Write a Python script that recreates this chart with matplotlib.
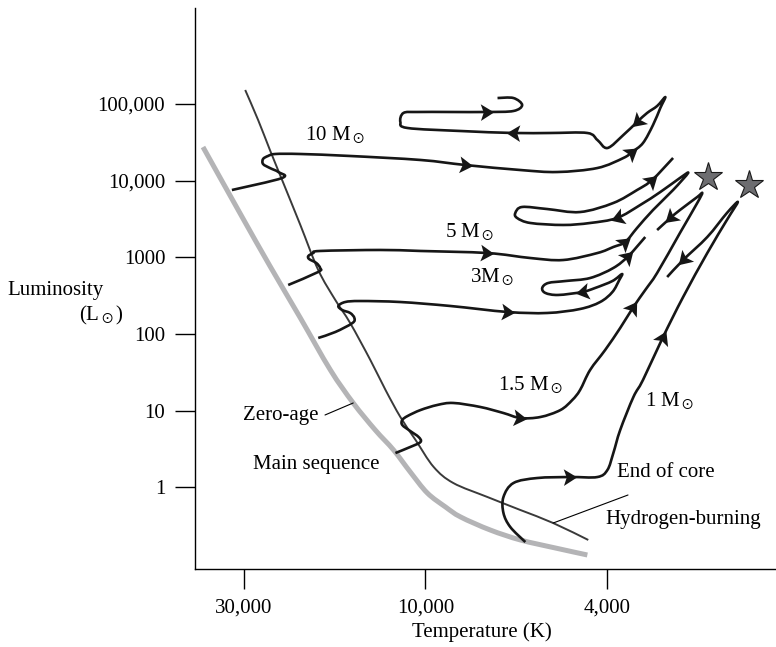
import numpy as np
import matplotlib
matplotlib.use("Agg")
import matplotlib.pyplot as plt
from matplotlib.markers import MarkerStyle
from matplotlib.path import Path
from matplotlib.patches import PathPatch
from matplotlib.transforms import IdentityTransform
from matplotlib.ticker import NullLocator

plt.rcParams["font.family"] = "Liberation Serif"
plt.rcParams["mathtext.fontset"] = "stix"

# zero-age main sequence (grey band), log10 T and log10 L/Lsun
zams_logT = [4.585, 4.488, 4.409, 4.329, 4.250, 4.190, 4.132, 4.084, 4.040, 3.996,
             3.956, 3.923, 3.858, 3.792, 3.715, 3.645]
zams_logL = [4.439, 3.578, 2.887, 2.209, 1.530, 1.100, 0.747, 0.487, 0.200, -0.074,
             -0.257, -0.387, -0.557, -0.687, -0.792, -0.883]

# end of core hydrogen burning (thin dark line)
tams_logT = [4.474, 4.440, 4.409, 4.377, 4.329, 4.282, 4.237, 4.198, 4.145, 4.105,
             4.066, 4.026, 3.982, 3.939, 3.864, 3.792, 3.720, 3.643]
tams_logL = [5.183, 4.791, 4.400, 4.009, 3.422, 2.835, 2.443, 2.143, 1.661, 1.269,
             0.917, 0.617, 0.265, 0.056, -0.127, -0.296, -0.466, -0.687]

# evolutionary tracks
m10_logT = [4.509, 4.377, 4.387, 4.409, 4.427, 4.427, 4.414, 4.395, 4.329, 4.198,
            4.013, 3.912, 3.792, 3.711, 3.623, 3.566, 3.547, 3.523, 3.501, 3.485,
            3.474, 3.492, 3.514, 3.536, 3.566, 3.601, 3.623, 3.645, 3.726, 3.807,
            3.923, 4.047, 4.066, 4.058, 4.021, 3.945, 3.864, 3.807, 3.788, 3.807, 3.842]
m10_logL = [3.878, 4.035, 4.113, 4.165, 4.217, 4.283, 4.322, 4.348, 4.348, 4.322,
            4.270, 4.204, 4.139, 4.113, 4.165, 4.296, 4.374, 4.491, 4.726, 4.948,
            5.091, 4.974, 4.883, 4.765, 4.596, 4.426, 4.531, 4.622, 4.622, 4.622,
            4.648, 4.687, 4.765, 4.883, 4.896, 4.896, 4.896, 4.909, 4.987, 5.078, 5.078]
m10_arrows = [11, 16, 23, 29, 36]

m5_logT = [4.361, 4.282, 4.277, 4.287, 4.306, 4.308, 4.295, 4.277, 4.119, 4.013,
           3.864, 3.770, 3.698, 3.623, 3.588, 3.562, 3.536, 3.501, 3.457, 3.424,
           3.442, 3.485, 3.529, 3.580, 3.639, 3.698, 3.770, 3.799, 3.803, 3.788,
           3.733, 3.661, 3.588, 3.536, 3.503, 3.457]
m5_logL = [2.639, 2.809, 2.861, 2.926, 2.978, 3.017, 3.056, 3.083, 3.096, 3.083,
           3.056, 2.991, 2.965, 3.056, 3.135, 3.200, 3.383, 3.617, 3.878, 4.100,
           4.035, 3.852, 3.683, 3.513, 3.448, 3.422, 3.448, 3.513, 3.578, 3.657,
           3.630, 3.591, 3.709, 3.878, 4.009, 4.296]
m5_arrows = [10, 15, 23, 34]

m3_logT = [4.282, 4.237, 4.192, 4.187, 4.198, 4.219, 4.229, 4.211, 4.171, 4.066,
           3.945, 3.820, 3.733, 3.661, 3.617, 3.590, 3.575, 3.569, 3.590, 3.628,
           3.656, 3.709, 3.737, 3.744, 3.731, 3.693, 3.639, 3.588, 3.555, 3.518]
m3_logL = [1.948, 2.026, 2.143, 2.209, 2.274, 2.313, 2.365, 2.417, 2.430, 2.417,
           2.365, 2.287, 2.274, 2.326, 2.417, 2.548, 2.704, 2.782, 2.691, 2.600,
           2.548, 2.509, 2.535, 2.600, 2.665, 2.691, 2.730, 2.861, 3.017, 3.265]
m3_arrows = [11, 20, 28]

m15_logT = [4.079, 4.040, 4.013, 4.018, 4.040, 4.061, 4.061, 4.047, 4.013, 3.974,
            3.939, 3.880, 3.829, 3.792, 3.748, 3.704, 3.678, 3.661, 3.639, 3.606,
            3.573, 3.544, 3.518, 3.492, 3.442, 3.404, 3.393, 3.404, 3.442, 3.463, 3.492]
m15_logL = [0.447, 0.526, 0.591, 0.656, 0.734, 0.813, 0.878, 0.930, 1.008, 1.074,
            1.100, 1.048, 0.969, 0.904, 0.917, 1.008, 1.139, 1.269, 1.530, 1.791,
            2.078, 2.352, 2.574, 2.796, 3.317, 3.709, 3.839, 3.787, 3.617, 3.513, 3.356]
m15_arrows = [13, 21, 29]

m1_logT = [3.781, 3.814, 3.829, 3.829, 3.807, 3.755, 3.682, 3.623, 3.601, 3.588,
           3.573, 3.544, 3.523, 3.479, 3.435, 3.382, 3.339, 3.315, 3.339, 3.382,
           3.435, 3.470]
m1_logL = [-0.714, -0.518, -0.335, -0.127, 0.056, 0.121, 0.134, 0.134, 0.226, 0.447,
           0.747, 1.178, 1.400, 1.961, 2.482, 3.056, 3.487, 3.722, 3.578, 3.265,
           2.965, 2.743]
m1_arrows = [6, 13, 20]

star_logT = [3.380, 3.290]
star_logL = [4.048, 3.943]

T_ticks = [30000, 10000, 4000]
T_labels = ["30,000", "10,000", "4,000"]
L_ticks = [1, 10, 100, 1000, 10000, 100000]
L_labels = ["1", "10", "100", "1000", "10,000", "100,000"]


# the schematic puts its temperature ticks evenly apart, so the scale is log T
# stretched differently either side of 10,000 K
def t_fwd(T):
    lt = np.log10(np.clip(T, 1e-6, None))
    return np.where(lt >= 4, (lt - 4) / np.log10(3), (lt - 4) / np.log10(2.5))


def t_inv(u):
    return 10 ** np.where(u >= 0, 4 + u * np.log10(3), 4 + u * np.log10(2.5))


def lin(a):
    return 10 ** np.array(a)


def smooth_path(pts):                     # catmull-rom through the points, as bezier pieces
    verts = [pts[0]]
    codes = [Path.MOVETO]
    n = len(pts)
    for i in range(n - 1):
        p0, p1 = pts[max(i - 1, 0)], pts[i]
        p2, p3 = pts[i + 1], pts[min(i + 2, n - 1)]
        verts += [p1 + (p2 - p0) / 6, p2 - (p3 - p1) / 6, p2]
        codes += [Path.CURVE4] * 3
    return Path(verts, codes)


W, H = 776, 647
fig = plt.figure(figsize=(W / 100, H / 100), dpi=100)
ax = fig.add_axes([195 / W, 78 / H, 581 / W, 561 / H])
ax.set_xscale("function", functions=(t_fwd, t_inv))
ax.set_yscale("log")
ax.set_xlim(10 ** 4.606, 10 ** 3.2313)
ax.set_ylim(10 ** -1.0658, 10 ** 6.2525)

for s in ["top", "right"]:
    ax.spines[s].set_visible(False)
for s in ["left", "bottom"]:
    ax.spines[s].set_linewidth(1.0)

ax.set_xticks(T_ticks)
ax.set_xticklabels(T_labels)
ax.set_yticks(L_ticks)
ax.set_yticklabels(L_labels)
ax.xaxis.set_minor_locator(NullLocator())
ax.yaxis.set_minor_locator(NullLocator())
ax.tick_params(direction="out", length=14.4, width=1.0, pad=7, labelsize=15)


def draw_curve(lt, ll, color, lw):
    pts = ax.transData.transform(np.column_stack([lin(lt), lin(ll)]))
    ax.add_patch(PathPatch(smooth_path(pts), transform=IdentityTransform(), fill=False,
                           ec=color, lw=lw, capstyle="butt", joinstyle="round"))
    return pts


draw_curve(zams_logT, zams_logL, "#b4b4b6", 3.6)
draw_curve(tams_logT, tams_logL, "#3a3a3a", 1.4)

tracks = [(m10_logT, m10_logL, m10_arrows), (m5_logT, m5_logL, m5_arrows),
          (m3_logT, m3_logL, m3_arrows), (m15_logT, m15_logL, m15_arrows),
          (m1_logT, m1_logL, m1_arrows)]

head = Path([(0.8, 0), (-0.8, -1), (-0.45, 0), (-0.8, 1), (0.8, 0)],
            [Path.MOVETO, Path.LINETO, Path.LINETO, Path.LINETO, Path.CLOSEPOLY])

for lt, ll, arr in tracks:
    pts = draw_curve(lt, ll, "#161616", 1.9)
    for i in arr:
        d = pts[i + 1] - pts[i - 1]
        ang = np.degrees(np.arctan2(d[1], d[0]))
        ax.plot(lin(lt)[i], lin(ll)[i], ls="none", marker=MarkerStyle(head).rotated(deg=ang),
                ms=12, color="#161616", mew=0)

ax.plot(lin(star_logT), lin(star_logL), ls="none", marker="*", ms=21,
        mfc="#6d6d70", mec="#1a1a1a", mew=0.8)

# leader lines
ax.annotate("", xy=(lin(zams_logT)[5], lin(zams_logL)[5]), xytext=(325, H - 415),
            textcoords="figure pixels",
            arrowprops=dict(arrowstyle="-", lw=0.8, color="k", shrinkA=0, shrinkB=0))
ax.annotate("", xy=(lin(tams_logT)[16], lin(tams_logL)[16]), xytext=(628, H - 495),
            textcoords="figure pixels",
            arrowprops=dict(arrowstyle="-", lw=0.8, color="k", shrinkA=0, shrinkB=0))

labels = [("10 M$_\\odot$", 305, 140), ("5 M$_\\odot$", 445, 237),
          ("3M$_\\odot$", 470, 282), ("1.5 M$_\\odot$", 498, 390),
          ("1 M$_\\odot$", 645, 406), ("Zero-age", 243, 420),
          ("Main sequence", 253, 469), ("End of core", 617, 477),
          ("Hydrogen-burning", 605, 524), ("Luminosity", 7, 295),
          ("(L$_\\odot$)", 79, 320), ("Temperature (K)", 412, 637)]
for s, px, py in labels:
    fig.text(px / W, 1 - py / H, s, ha="left", va="baseline", fontsize=15)

fig.savefig("out.png", dpi=100)
